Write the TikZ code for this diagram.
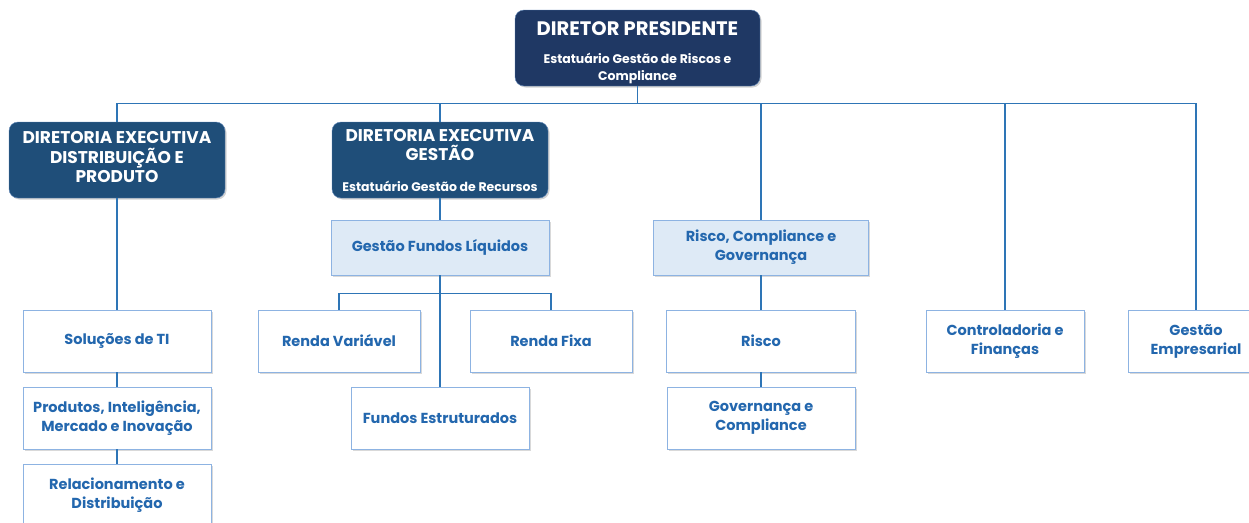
\documentclass[tikz,border=0pt]{standalone}
\usepackage{fontspec}
\setmainfont{Poppins}
\usetikzlibrary{positioning, shadows}
\definecolor{presfill}{HTML}{1F3864}
\definecolor{execfill}{HTML}{1F4E79}
\definecolor{execborder}{HTML}{5B83B5}
\definecolor{unitborder}{HTML}{8DB3E2}
\definecolor{unittext}{HTML}{2367AE}
\definecolor{headfill}{HTML}{DEEAF6}
\definecolor{linkblue}{HTML}{2E75B6}
\newcommand{\bigtxt}{\fontsize{17}{19.5}\selectfont}
\newcommand{\subtxt}{\fontsize{12.5}{17}\selectfont}

\begin{document}
\begin{tikzpicture}[x=1pt, y=-1pt,
	every node/.style={font=\bfseries},
	boss/.style={draw=execborder, fill=presfill, rounded corners=9pt, text=white,
		align=center, inner sep=0pt, minimum height=76pt,
		drop shadow={shadow xshift=1.5pt, shadow yshift=-1.5pt, opacity=.35}},
	exec/.style={boss, fill=execfill},
	unit/.style={draw=unitborder, line width=.9pt, fill=white, text=unittext,
		align=center, inner sep=0pt, minimum height=62pt,
		font=\bfseries\fontsize{14.5}{19}\selectfont,
		drop shadow={shadow xshift=1.5pt, shadow yshift=-1.5pt, opacity=.3}},
	head/.style={unit, fill=headfill, minimum height=55pt},
	link/.style={draw=linkblue, line width=1.1pt}]

\clip (0,0) rectangle (1249,522);

% direcao
\node[boss, minimum width=245pt, font=\bfseries\fontsize{19.5}{17}\selectfont] (pres) at (637.5,48)
	{\rule{0pt}{24pt}DIRETOR PRESIDENTE\\[11pt]\subtxt Estatuário Gestão de Riscos e\\\subtxt Compliance};
\node[exec, minimum width=216pt, font=\bfseries\bigtxt] (dirDist) at (117,160)
	{DIRETORIA EXECUTIVA\\DISTRIBUIÇÃO E\\PRODUTO\rule[-6pt]{0pt}{6pt}};
\node[exec, minimum width=216pt, font=\bfseries\bigtxt] (dirGest) at (440,160)
	{DIRETORIA EXECUTIVA\\GESTÃO\\[11pt]\fontsize{12.5}{12}\selectfont Estatuário Gestão de Recursos};

% areas
\node[head, minimum width=218pt] (fundos) at (440,247.5) {Gestão Fundos Líquidos};
\node[head, minimum width=215pt] (riscoGov) at (761,247.5) {Risco, Compliance e\\Governança};

% distribuicao
\node[unit, minimum width=188pt] (ti) at (117,341) {Soluções de TI};
\node[unit, minimum width=188pt] (produtos) at (117,418) {Produtos, Inteligência,\\Mercado e Inovação};
\node[unit, minimum width=188pt] (relac) at (117,495) {Relacionamento e\\Distribuição};

% gestao
\node[unit, minimum width=162pt] (variavel) at (339,341) {Renda Variável};
\node[unit, minimum width=162pt] (fixa) at (551,341) {Renda Fixa};
\node[unit, minimum width=178pt] (estrut) at (440,418) {Fundos Estruturados};

% risco
\node[unit, minimum width=189pt] (risco) at (761,341) {Risco};
\node[unit, minimum width=188pt] (govComp) at (761,418) {Governança e\\Compliance};

% demais
\node[unit, minimum width=158pt] (control) at (1005,341) {Controladoria e\\Finanças};
\node[unit, minimum width=136pt] (gestEmp) at (1196,341) {Gestão\\Empresarial};

% ligacoes
\foreach \n in {dirDist, dirGest, riscoGov, control, gestEmp}
	\draw[link] (pres.south) -- ++(0,17) -| (\n.north);
\draw[link] (dirDist) -- (ti) (ti) -- (produtos) (produtos) -- (relac);
\draw[link] (dirGest) -- (fundos) (fundos) -- (estrut);
\foreach \n in {variavel, fixa}
	\draw[link] (fundos.south) -- ++(0,18) -| (\n.north);
\draw[link] (riscoGov) -- (risco) (risco) -- (govComp);
\end{tikzpicture}
\end{document}
